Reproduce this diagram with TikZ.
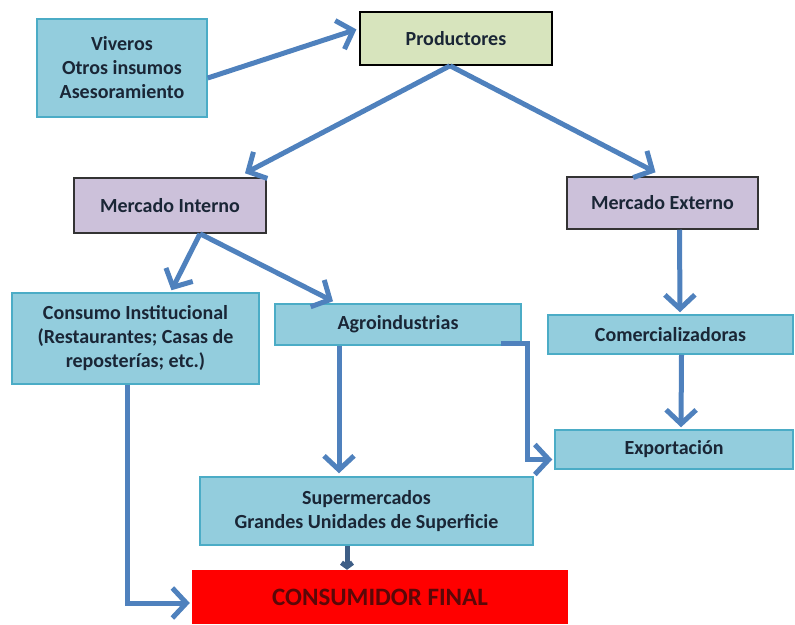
\documentclass[tikz,border=0pt]{standalone}
\usepackage{fontspec}
\setmainfont{Carlito}
\usetikzlibrary{arrows.meta,calc}
\definecolor{boxblue}{HTML}{93CDDD}
\definecolor{boxedge}{HTML}{4BACC6}
\definecolor{prodgreen}{HTML}{D7E4BD}
\definecolor{mktlila}{HTML}{CCC1DA}
\definecolor{flowblue}{HTML}{4F81BD}
\definecolor{stubblue}{HTML}{3E5E86}
\definecolor{finred}{HTML}{FF0000}
\definecolor{fintext}{HTML}{5A0808}
\definecolor{inktext}{HTML}{1A2636}
\tikzset{
  box/.style={rectangle,inner sep=0pt,align=center,text=inktext,
    font=\fontsize{20}{24}\selectfont\bfseries},
  bluebox/.style={box,fill=boxblue,draw=boxedge,line width=1.5pt},
  prodbox/.style={box,fill=prodgreen,draw=black,line width=1.5pt},
  mktbox/.style={box,fill=mktlila,draw=black!80,line width=1.5pt},
  finbox/.style={box,fill=finred,text=fintext,font=\fontsize{25}{28}\selectfont\bfseries},
  flow/.style={draw=flowblue,line width=5pt,-{Straight Barb[length=14pt,width=30pt]}},
  stub/.style={draw=stubblue,line width=5pt,-{Straight Barb[length=4pt,width=11pt]}}
}
\begin{document}
\begin{tikzpicture}[x=1pt,y=-1pt]
      \useasboundingbox (0,0) rectangle (795,624);
      \node[bluebox,minimum width=170pt,minimum height=98pt] (viv) at (122,68)
           {Viveros\\Otros insumos\\Asesoramiento};
      \node[prodbox,minimum width=192pt,minimum height=53pt] (prod) at (456,38.5) {Productores};

      \node[mktbox,minimum width=192pt,minimum height=55pt] (mint) at (170,205.5) {Mercado Interno};
      \node[mktbox,minimum width=191pt,minimum height=52pt] (mext) at (662.5,203) {Mercado Externo};

      \node[bluebox,minimum width=247pt,minimum height=91pt] (cinst) at (135.5,338.5)
           {Consumo Institucional\\(Restaurantes; Casas de\\reposterías; etc.)};
      \node[bluebox,minimum width=246pt,minimum height=41pt] (agro) at (398,324.5) {Agroindustrias};
      \node[bluebox,minimum width=245pt,minimum height=39pt] (comer) at (670.5,334.5) {Comercializadoras};
      \node[bluebox,minimum width=238pt,minimum height=39pt] (expo) at (674,449.5) {Exportación};

      \node[bluebox,minimum width=333pt,minimum height=68pt] (super) at (366.5,511)
           {Supermercados\\Grandes Unidades de Superficie};
      \node[finbox,minimum width=376pt,minimum height=54pt] (final) at (380,597) {CONSUMIDOR FINAL};

      \draw[flow,shorten >=3pt] ([yshift=-10pt]viv.east) -- ([yshift=10pt]prod.west);
      \draw[flow] ([xshift=-6pt]prod.south) -- ($(mint.north)+(75,-4)$);
      \draw[flow] ([xshift=-6pt]prod.south) -- ($(mext.north)+(-7,-4)$);

      \draw[flow] ($(mext.south)+(17,0)$) -- ($(comer.north)+(9.5,-2)$);
      \draw[flow] ($(comer.south)+(11,0)$) -- ($(expo.north)+(7,-2)$);

      \draw[flow] ($(mint.south)+(30,0)$) -- ($(cinst.north)+(36,-2)$);
      \draw[flow] ($(mint.south)+(30,0)$) -- ($(agro.north)+(-65,-2)$);

      \draw[flow] ($(agro.south)+(-59,0)$) -- ($(super.north)+(-27.5,-3)$);
      \draw[flow] ($(agro.south east)+(-21,-2)$) -| ($(expo.west)+(-27,10)$)
           -- ($(expo.west)+(-2,10)$);
      \draw[flow] ($(cinst.south)+(-8.5,0)$) |- ($(final.west)+(-2,6)$);
      \draw[stub] ($(super.south)+(-19.5,0)$) -- ($(final.north)+(-33,0)$);
\end{tikzpicture}
\end{document}
